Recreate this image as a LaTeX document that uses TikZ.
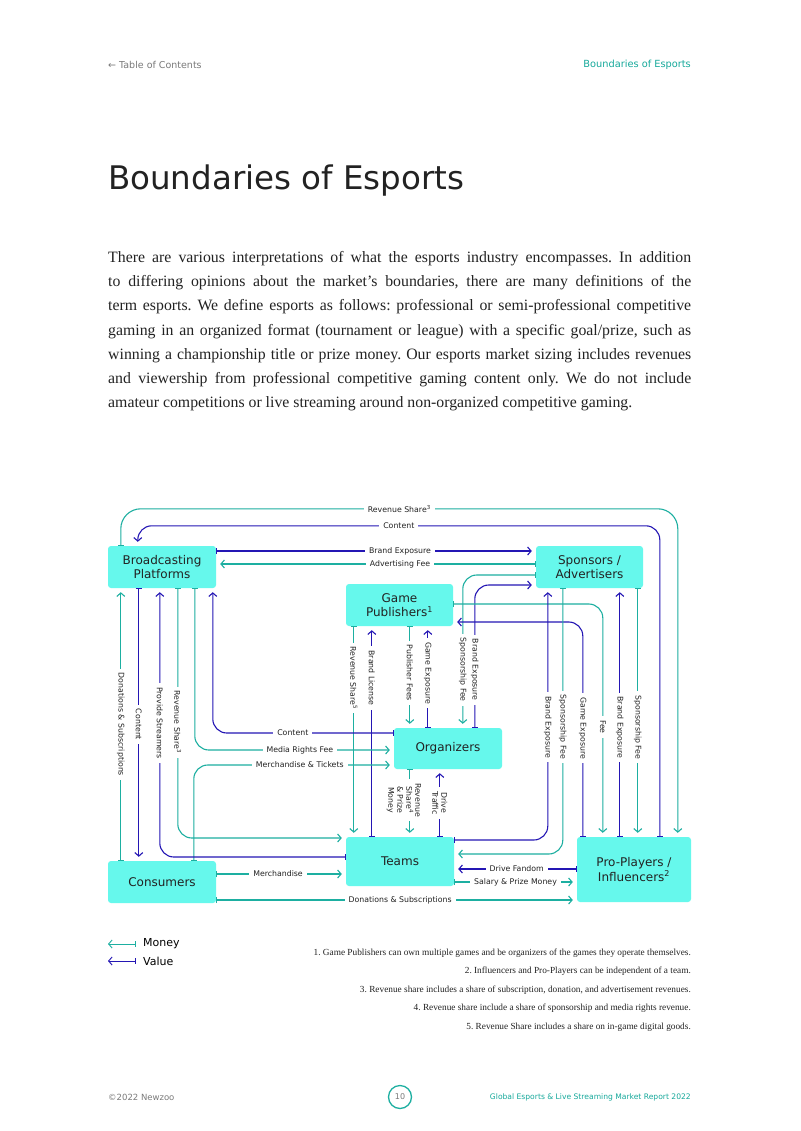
\documentclass[tikz,border=0pt]{standalone}
\usepackage{fontspec}
\setmainfont{Liberation Serif}
\setsansfont{DejaVu Sans}
\usetikzlibrary{arrows.meta}
\frenchspacing

\definecolor{moneyc}{HTML}{1DAFA1}
\definecolor{valuec}{HTML}{2416B4}
\definecolor{boxc}{HTML}{66F8EC}
\definecolor{inkc}{HTML}{222222}
\definecolor{greyc}{HTML}{7A7A7A}
\definecolor{tealtxt}{HTML}{16A99B}

\newcommand\boxfont{\sffamily\fontsize{12}{14.6}\selectfont}
\newcommand\lblfont{\sffamily\fontsize{7.8}{9}\selectfont}
\newcommand\bodyfont{\rmfamily\fontsize{15.8}{24}\selectfont}
\newcommand\notefont{\rmfamily\fontsize{9.3}{11}\selectfont}

\tikzset{
  entity/.style={fill=boxc, rounded corners=3pt, inner sep=0pt, align=center,
    font=\boxfont, text=inkc},
  flow/.style={line width=1.1pt, rounded corners=14pt, shorten >=4pt,
    arrows={Bar[width=6pt]-Straight Barb[length=3.5pt,width=8pt]}},
  money/.style={flow, draw=moneyc},
  value/.style={flow, draw=valuec},
  lbl/.style={fill=white, sharp corners, font=\lblfont, text=inkc,
    inner xsep=4pt, inner ysep=1pt},
  vlbl/.style={lbl, rotate=-90},
  body/.style={anchor=base west, inner sep=0pt, font=\bodyfont, text=inkc},
  note/.style={anchor=base east, inner sep=0pt, font=\notefont, text=inkc},
}

\begin{document}
\begin{tikzpicture}[x=1pt, y=-1pt, line join=round]
  \useasboundingbox[fill=white] (0,0) rectangle (800,1131);

  % header
  \node[anchor=west, inner sep=0pt, font=\sffamily\fontsize{9.5}{11}\selectfont, text=greyc]
    (toc) at (108,65) {← Table of Contents};
  \node[anchor=east, inner sep=0pt, font=\sffamily\fontsize{9.8}{11}\selectfont, text=tealtxt]
    (sec) at (691,65) {Boundaries of Esports};
  \node[anchor=base west, inner sep=0pt, font=\sffamily\fontsize{32.5}{36}\selectfont, text=inkc]
    (title) at (108,190) {Boundaries of Esports};

  % intro text
  \node[body] (l1) at (108,262.5) {\hbox to 583pt{There are various interpretations of what the esports industry encompasses. In addition}};
  \node[body] (l2) at (108,286.7) {\hbox to 583pt{to differing opinions about the market’s boundaries, there are many definitions of the}};
  \node[body] (l3) at (108,310.9) {\hbox to 583pt{term esports. We define esports as follows: professional or semi-professional competitive}};
  \node[body] (l4) at (108,335.1) {\hbox to 583pt{gaming in an organized format (tournament or league) with a specific goal/prize, such as}};
  \node[body] (l5) at (108,359.3) {\hbox to 583pt{winning a championship title or prize money. Our esports market sizing includes revenues}};
  \node[body] (l6) at (108,383.5) {\hbox to 583pt{and viewership from professional competitive gaming content only. We do not include}};
  \node[body] (l7) at (108,407.7) {amateur competitions or live streaming around non-organized competitive gaming.};

  % actors
  \node[entity, minimum width=108pt, minimum height=42pt] (bp) at (162,567) {Broadcasting\\Platforms};
  \node[entity, minimum width=107pt, minimum height=42pt] (sa) at (589.5,567) {Sponsors /\\Advertisers};
  \node[entity, minimum width=107pt, minimum height=42pt] (gp) at (399.5,605) {Game\\Publishers\textsuperscript{1}};
  \node[entity, minimum width=108pt, minimum height=41pt] (org) at (448,748.5) {Organizers};
  \node[entity, minimum width=108pt, minimum height=49pt] (tm) at (400,861.5) {Teams};
  \node[entity, minimum width=108pt, minimum height=42pt] (cs) at (162,882) {Consumers};
  \node[entity, minimum width=114pt, minimum height=65pt] (pp) at (634,869.5) {Pro-Players /\\Influencers\textsuperscript{2}};

  % outer loops
  \draw[money, rounded corners=20pt] ([xshift=13pt]bp.north west) -- ++(0,-37)
    -| node[lbl, pos=0.25] {Revenue Share\textsuperscript{3}} ([xshift=101pt]pp.north west);
  \draw[value] ([xshift=83pt]pp.north west) -- ++(0,-311)
    -| node[lbl, pos=0.25] {Content} ([xshift=30pt]bp.north west);

  % broadcasting <-> sponsors
  \draw[value] ([yshift=16pt]bp.east) -- node[lbl, pos=0.575] {Brand Exposure} ([yshift=16pt]sa.west);
  \draw[money] ([yshift=3pt]sa.west) -- node[lbl, pos=0.425] {Advertising Fee} ([yshift=3pt]bp.east);

  % sponsors <-> organizers
  \draw[money] ([yshift=-8pt]sa.west) -| node[vlbl, pos=0.81] {Sponsorship Fee} ([xshift=69pt]org.north west);
  \draw[value] ([xshift=81pt]org.north west) |- node[vlbl, pos=0.203] {Brand Exposure} ([yshift=-18pt]sa.west);

  % publishers <-> pro-players
  \draw[money] ([yshift=1pt]gp.east) -| node[vlbl, pos=0.764] {Fee} ([xshift=26pt]pp.north west);
  \draw[value] ([xshift=6pt]pp.north west) |- node[vlbl, pos=0.253] {Game Exposure} ([yshift=-17pt]gp.east);

  % sponsors <-> teams
  \draw[value] ([yshift=21.5pt]tm.east) -| node[vlbl, pos=0.724] {Brand Exposure} ([xshift=12pt]sa.south west);
  \draw[money] ([xshift=27pt]sa.south west) |- node[vlbl, pos=0.261] {Sponsorship Fee} ([yshift=7.5pt]tm.east);

  % sponsors <-> pro-players
  \draw[value] ([xshift=43pt]pp.north west) -- node[vlbl, pos=0.44] {Brand Exposure} ([xshift=84pt]sa.south west);
  \draw[money] ([xshift=102pt]sa.south west) -- node[vlbl, pos=0.56] {Sponsorship Fee} ([xshift=61pt]pp.north west);

  % publishers <-> teams, organizers
  \draw[money] ([xshift=8pt]gp.south west) -- node[vlbl, pos=0.246] {Revenue Share\textsuperscript{5}} ([xshift=8pt]tm.north west);
  \draw[value] ([xshift=26pt]tm.north west) -- node[vlbl, pos=0.754] {Brand License} ([xshift=26pt]gp.south west);
  \draw[money] ([xshift=64pt]gp.south west) -- node[vlbl, pos=0.46] {Publisher Fees} ([xshift=16pt]org.north west);
  \draw[value] ([xshift=34pt]org.north west) -- node[vlbl, pos=0.54] {Game Exposure} ([xshift=82pt]gp.south west);

  % organizers <-> teams
  \draw[money] ([xshift=16pt]org.south west) -- ([xshift=64pt]tm.north west);
  \node[vlbl, align=center] (rsp) at (404,800) {Revenue\\Share\textsuperscript{4}\\\& Prize\\Money};
  \draw[value] ([xshift=94pt]tm.north west) -- node[vlbl, midway, align=center] {Drive\\Traffic} ([xshift=46pt]org.south west);

  % organizers <-> broadcasting, consumers
  \draw[value] ([yshift=15.5pt]org.west) -| node[lbl, pos=0.279] {Content} ([xshift=105pt]bp.south west);
  \draw[money] ([xshift=87pt]bp.south west) |- node[lbl, pos=0.764] {Media Rights Fee} ([yshift=-1.5pt]org.west);
  \draw[money] ([xshift=86pt]cs.north west) |- node[lbl, pos=0.765] {Merchandise \& Tickets} ([yshift=-16.5pt]org.west);

  % broadcasting <-> consumers, teams
  \draw[money] ([xshift=13pt]cs.north west) -- node[vlbl, midway] {Donations \& Subscriptions} ([xshift=13pt]bp.south west);
  \draw[value] ([xshift=31pt]bp.south west) -- node[vlbl, midway] {Content} ([xshift=31pt]cs.north west);
  \draw[value] ([yshift=4.5pt]tm.west) -| node[vlbl, pos=0.749] {Provide Streamers} ([xshift=52pt]bp.south west);
  \draw[money] ([xshift=70pt]bp.south west) |- node[vlbl, pos=0.268] {Revenue Share\textsuperscript{3}} ([yshift=23.5pt]tm.west);

  % bottom row
  \draw[money] ([yshift=8pt]cs.east) -- node[lbl, pos=0.477] {Merchandise} ([yshift=-12.5pt]tm.west);
  \draw[money] ([yshift=-18pt]cs.east) -- node[lbl, pos=0.51] {Donations \& Subscriptions} ([yshift=-30.5pt]pp.west);
  \draw[value] ([yshift=0.5pt]pp.west) -- node[lbl, pos=0.49] {Drive Fandom} ([yshift=-7.5pt]tm.east);
  \draw[money] ([yshift=-20.5pt]tm.east) -- node[lbl, midway] {Salary \& Prize Money} ([yshift=-12.5pt]pp.west);

  % legend
  \node[anchor=west, inner sep=0pt, font=\sffamily\fontsize{11}{13}\selectfont, text=black] (lgm) at (143,944) {Money};
  \node[anchor=west, inner sep=0pt, font=\sffamily\fontsize{11}{13}\selectfont, text=black] (lgv) at (143,961) {Value};
  \draw[money, line width=0.9pt, shorten >=0pt] ([xshift=-7pt]lgm.west) -- ++(-28,0);
  \draw[value, line width=0.9pt, shorten >=0pt] ([xshift=-7pt]lgv.west) -- ++(-28,0);

  % footnotes
  \node[note] (n1) at (691,955) {1. Game Publishers can own multiple games and be organizers of the games they operate themselves.};
  \node[note] (n2) at (691,973.5) {2. Influencers and Pro-Players can be independent of a team.};
  \node[note] (n3) at (691,992) {3. Revenue share includes a share of subscription, donation, and advertisement revenues.};
  \node[note] (n4) at (691,1010.5) {4. Revenue share include a share of sponsorship and media rights revenue.};
  \node[note] (n5) at (691,1029) {5. Revenue Share includes a share on in-game digital goods.};

  % footer
  \node[anchor=west, inner sep=0pt, font=\sffamily\fontsize{8.5}{10}\selectfont, text=greyc] (cpy) at (108,1097) {©2022 Newzoo};
  \node[circle, draw=moneyc, line width=1.3pt, minimum size=23pt, inner sep=0pt,
    font=\sffamily\fontsize{8}{10}\selectfont, text=greyc] (pg) at (400,1097) {10};
  \node[anchor=east, inner sep=0pt, font=\sffamily\fontsize{7.6}{10}\selectfont, text=tealtxt] (rpt) at (691,1097) {Global Esports \& Live Streaming Market Report 2022};
\end{tikzpicture}
\end{document}
